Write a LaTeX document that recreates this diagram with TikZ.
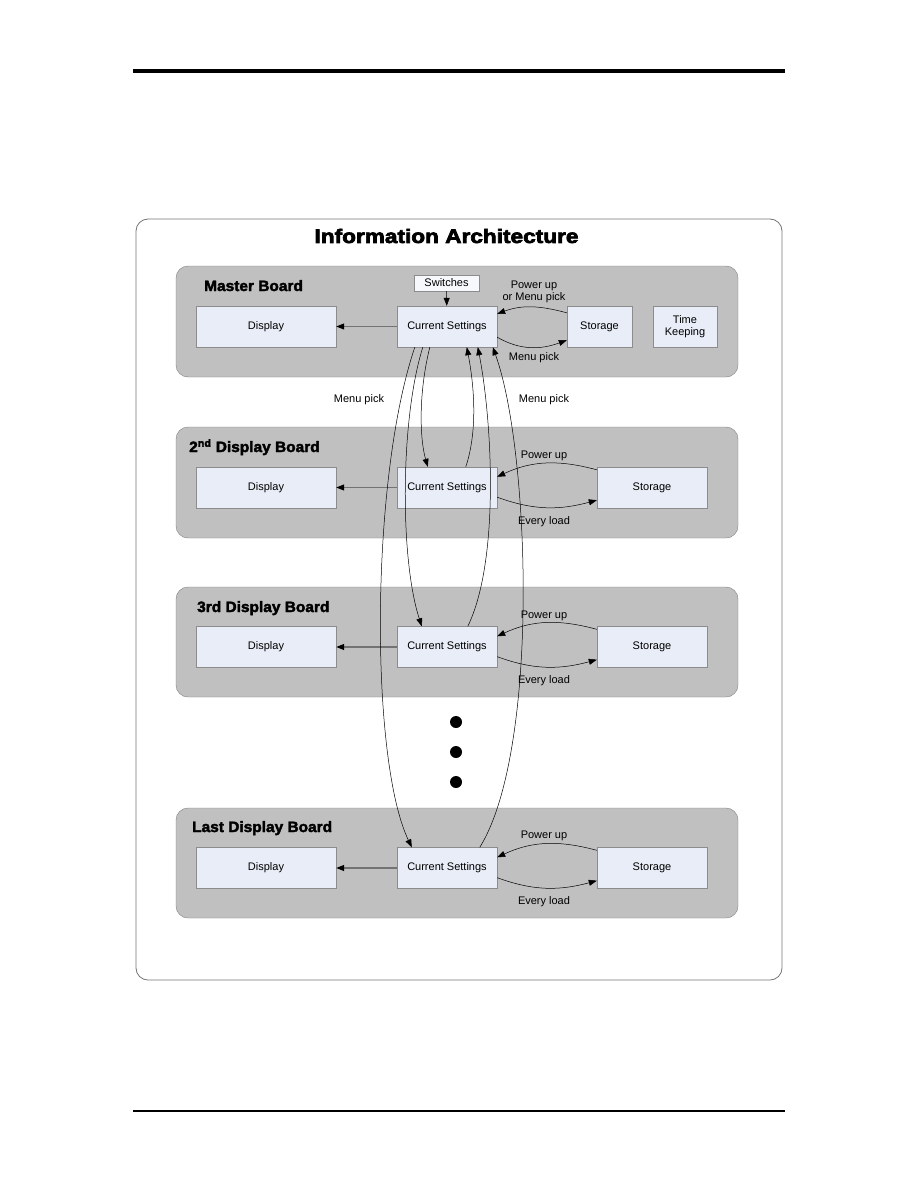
\documentclass[tikz,border=0pt]{standalone}
\usepackage{fontspec}
\setmainfont{Liberation Sans}
\newfontfamily\heavyfont[BoldFeatures={FakeBold=2.5,FakeStretch=1.03}]{Liberation Sans}
\newfontfamily\bigheavyfont[BoldFeatures={FakeBold=3.5,FakeStretch=1.16}]{Liberation Sans}
\usetikzlibrary{arrows.meta}
\definecolor{boxblue}{RGB}{233,237,247}
\definecolor{boardgray}{RGB}{192,192,192}

\begin{document}
\begin{tikzpicture}[x=1pt, y=-1pt,
    board/.style={draw=black!50, fill=boardgray, rounded corners=12pt, minimum width=562pt, minimum height=111pt},
    box/.style={draw=black!45, fill=boxblue, minimum height=41pt, inner sep=1pt, align=center, font=\fontsize{11}{12.5}\selectfont},
    boardname/.style={anchor=base west, inner sep=0pt, font=\heavyfont\bfseries\fontsize{15}{16}\selectfont},
    note/.style={align=center, inner sep=1pt, font=\fontsize{11}{12.5}\selectfont},
    flow/.style={line width=0.5pt, -{Triangle[length=8pt,width=6pt]}},
    feed/.style={draw=black!55, line width=1.2pt, -{Triangle[length=8pt,width=6pt,color=black]}}
]
    \useasboundingbox (0,0) rectangle (918,1188);
    % page rules
    \draw[line width=3.5pt] (133,71) -- (785,71);
    \draw[line width=1.2pt] (133,1111) -- (785,1111);

    % --- Frame and title ---
    \node[draw=black!55, line width=0.8pt, rounded corners=12pt, minimum width=646pt, minimum height=761pt] (frame) at (459,599.5) {};
    \node[inner sep=0pt, font=\bigheavyfont\bfseries\fontsize{19.5}{20}\selectfont] (title) at (446.5,236) {Information Architecture};

    % --- Master board ---
    \node[board] (board0) at (457,321.5) {};
    \node[boardname] (name0) at (204,291) {Master Board};
    \node[box, minimum width=140pt] (disp0) at (266,326.5) {Display};
    \node[box, minimum width=100pt] (cs0) at (447,326.5) {Current Settings};
    \node[box, minimum width=65pt] (st0) at (599.5,326.5) {Storage};
    \node[box, minimum width=64pt] (tk) at (685,326.5) {Time\\Keeping};
    \node[box, fill=white!60!boxblue, minimum width=65pt, minimum height=16pt] (sw) at (446.5,283) {Switches};
    \node[note] (up0) at (534,292) {Power up\\or Menu pick};
    \node[note] (pick0) at (534,358) {Menu pick};

    \draw[feed] (cs0) -- (disp0);
    \draw[flow] (sw) -- (cs0);
    \draw[flow] ([yshift=-7pt]st0.north west) to[out=165,in=20] ([yshift=-8pt]cs0.north east);
    \draw[flow] ([yshift=10pt]cs0.south east) to[out=-30,in=-160] ([yshift=7pt]st0.south west);

    \node[note] (pickl) at (359,400) {Menu pick};
    \node[note] (pickr) at (544,400) {Menu pick};

    % --- Display boards ---
    \node[board] (board1) at (457,482.5) {};
    \node[boardname] (name1) at (189,452) {2\textsuperscript{nd} Display Board};
    \node[board, minimum height=110pt] (board2) at (457,642) {};
    \node[boardname] (name2) at (197,612) {3rd Display Board};
    \node[board, minimum height=110pt] (board3) at (457,863) {};
    \node[boardname] (name3) at (192,832) {Last Display Board};

    \foreach \i/\y/\u/\e in {1/487.5/455.5/521.5, 2/647/615.5/680.5, 3/868/835.5/901.5} {
        \node[box, minimum width=140pt] (disp\i) at (266,\y) {Display};
        \node[box, minimum width=100pt] (cs\i) at (447,\y) {Current Settings};
        \node[box, minimum width=110pt] (st\i) at (652,\y) {Storage};
        \node[note] (up\i) at (544,\u) {Power up};
        \node[note] (load\i) at (544,\e) {Every load};
        \draw[feed] (cs\i) -- (disp\i);
        \draw[flow] ([yshift=-3pt]st\i.north west) to[out=165,in=25] ([yshift=-10pt]cs\i.north east);
        \draw[flow] ([yshift=11pt]cs\i.south east) to[out=-20,in=-165] ([yshift=8pt]st\i.south west);
    }

    % ellipsis dots
    \foreach \y [count=\k] in {722,752,782}
        \fill (456,\y) circle (6pt) coordinate (dot\k);

    % menu pick paths between the boards
    \draw[flow] ([xshift=33pt]cs0.south west) .. controls (418,395) and (420,440) .. ([xshift=31pt]cs1.north west);
    \draw[flow] ([xshift=26pt]cs0.south west) .. controls (400,420) and (400,560) .. ([xshift=25pt]cs2.north west);
    \draw[flow] ([xshift=18pt]cs0.south west) .. controls (370,480) and (370,760) .. ([xshift=15pt]cs3.north west);
    \draw[flow] ([xshift=69pt]cs1.north west) .. controls (478,430) and (474,385) .. ([xshift=70pt]cs0.south west);
    \draw[flow] ([xshift=71pt]cs2.north west) .. controls (500,560) and (492,420) .. ([xshift=81pt]cs0.south west);
    \draw[flow] ([xshift=83pt]cs3.north west) .. controls (540,750) and (530,450) .. ([xshift=96pt]cs0.south west);
\end{tikzpicture}
\end{document}
